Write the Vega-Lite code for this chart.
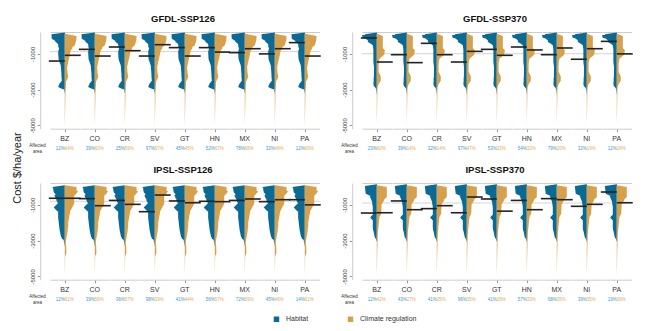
{
"$schema": "https://vega.github.io/schema/vega-lite/v6.json",
"padding": {"left": 12, "top": 13, "right": 5, "bottom": 5},
"title": {"text": "Cost $/ha/year", "orient": "left", "anchor": "middle", "fontSize": 11, "fontWeight": "normal", "color": "#222222", "offset": 6},
"config": {"font": "Liberation Sans", "view": {"stroke": null}, "axis": {"grid": false}},
"data": {"values": [
{"p":"G126","c":"BZ","s":"Habitat","m":-1400,"pct":"12%","v":[120,0,-200,-400,-1000,-2000,-2450,-2650,-2850,-2950,-3000],"w":[0,0.3,0.25,0.12,0.1,0.1,0.14,0.35,0.45,0.2,0]},
{"p":"G126","c":"BZ","s":"Climate regulation","m":-1080,"pct":"64%","v":[100,0,-300,-700,-1080,-1500,-1830,-2100,-2300,-2450,-2600,-3500,-5100],"w":[0,0.3,0.36,0.3,0.23,0.16,0.13,0.2,0.24,0.15,0.06,0.04,0]},
{"p":"G126","c":"CO","s":"Habitat","m":-746,"pct":"39%","v":[130,0,-350,-700,-1100,-1500,-2000,-2400,-2800,-2900],"w":[0,0.45,0.42,0.27,0.2,0.17,0.14,0.14,0.08,0]},
{"p":"G126","c":"CO","s":"Climate regulation","m":-1120,"pct":"60%","v":[100,0,-500,-900,-1450,-1900,-2400,-3000,-4160],"w":[0,0.32,0.32,0.25,0.18,0.1,0.07,0.04,0]},
{"p":"G126","c":"CR","s":"Habitat","m":-615,"pct":"25%","v":[150,30,-150,-350,-450,-700,-1000,-1500,-2200,-2800,-3230],"w":[0,0.8,0.78,0.6,0.45,0.27,0.2,0.18,0.15,0.1,0]},
{"p":"G126","c":"CR","s":"Climate regulation","m":-820,"pct":"59%","v":[100,0,-200,-400,-600,-900,-1450,-2400,-3000,-3800],"w":[0,0.25,0.45,0.57,0.5,0.3,0.18,0.1,0.06,0]},
{"p":"G126","c":"SV","s":"Habitat","m":-1120,"pct":"97%","v":[100,0,-520,-900,-1300,-1650,-2400,-2800,-2950],"w":[0,0.23,0.34,0.45,0.42,0.27,0.2,0.14,0]},
{"p":"G126","c":"SV","s":"Climate regulation","m":-485,"pct":"57%","v":[130,0,-240,-520,-700,-900,-1100,-1300],"w":[0,0.8,0.78,0.68,0.4,0.2,0.08,0]},
{"p":"G126","c":"GT","s":"Habitat","m":-650,"pct":"45%","v":[130,0,-150,-340,-500,-620,-800,-1100,-1800,-2000,-2200,-2500,-2760],"w":[0,0.4,0.4,0.18,0.42,0.45,0.22,0.18,0.2,0.23,0.14,0.1,0]},
{"p":"G126","c":"GT","s":"Climate regulation","m":-1120,"pct":"45%","v":[100,0,-500,-900,-1100,-1450,-2000,-3000,-3920],"w":[0,0.34,0.34,0.3,0.23,0.14,0.09,0.05,0]},
{"p":"G126","c":"HN","s":"Habitat","m":-650,"pct":"52%","v":[130,0,-350,-520,-900,-1450,-2400,-2900,-3040],"w":[0,0.57,0.55,0.34,0.23,0.16,0.16,0.1,0]},
{"p":"G126","c":"HN","s":"Climate regulation","m":-900,"pct":"67%","v":[100,0,-400,-700,-900,-1450,-2000,-2800,-3500],"w":[0,0.45,0.45,0.4,0.34,0.18,0.09,0.05,0]},
{"p":"G126","c":"MX","s":"Habitat","m":-930,"pct":"78%","v":[130,0,-500,-700,-1250,-2400,-2950],"w":[0,0.45,0.45,0.27,0.18,0.12,0]},
{"p":"G126","c":"MX","s":"Climate regulation","m":-710,"pct":"68%","v":[100,0,-400,-700,-900,-1450,-2000,-2950],"w":[0,0.45,0.57,0.5,0.34,0.14,0.06,0]},
{"p":"G126","c":"NI","s":"Habitat","m":-1000,"pct":"32%","v":[130,0,-340,-520,-900,-1450,-2000,-2200,-2700,-2850],"w":[0,0.41,0.4,0.27,0.27,0.23,0.2,0.23,0.18,0]},
{"p":"G126","c":"NI","s":"Climate regulation","m":-710,"pct":"48%","v":[100,0,-400,-700,-900,-1450,-2000,-2200,-2500,-3920],"w":[0,0.4,0.45,0.42,0.27,0.14,0.18,0.18,0.06,0]},
{"p":"G126","c":"PA","s":"Habitat","m":-370,"pct":"12%","v":[190,100,-150,-300,-430,-700,-1250,-1800],"w":[0,0.9,0.88,0.6,0.34,0.18,0.11,0]},
{"p":"G126","c":"PA","s":"Climate regulation","m":-1120,"pct":"69%","v":[100,0,-500,-1080,-1450,-1830,-2400,-3000,-4500],"w":[0,0.3,0.45,0.34,0.23,0.14,0.09,0.05,0]},
{"p":"G370","c":"BZ","s":"Habitat","m":-110,"pct":"23%","v":[150,50,-100,-250,-500,-1100,-1250,-1400,-1650,-1750],"w":[0,1.0,0.95,0.25,0.11,0.11,0.23,0.2,0.08,0]},
{"p":"G370","c":"BZ","s":"Climate regulation","m":-1455,"pct":"60%","v":[80,0,-700,-1450,-2000,-2250,-2500,-2700,-2900,-4720],"w":[0,0.16,0.16,0.13,0.12,0.27,0.27,0.12,0.05,0]},
{"p":"G370","c":"CO","s":"Habitat","m":-1045,"pct":"39%","v":[130,0,-340,-520,-1100,-2200,-2500,-2800,-3040],"w":[0,0.27,0.25,0.18,0.14,0.14,0.18,0.16,0]},
{"p":"G370","c":"CO","s":"Climate regulation","m":-1490,"pct":"14%","v":[100,0,-1270,-1450,-2000,-5000],"w":[0,0.18,0.16,0.11,0.05,0]},
{"p":"G370","c":"CR","s":"Habitat","m":-410,"pct":"32%","v":[130,0,-340,-520,-1100,-2200,-2650,-2800,-2950],"w":[0,0.45,0.42,0.23,0.16,0.16,0.23,0.2,0]},
{"p":"G370","c":"CR","s":"Climate regulation","m":-1045,"pct":"14%","v":[100,0,-700,-1080,-1450,-2000,-4530],"w":[0,0.27,0.27,0.18,0.11,0.05,0]},
{"p":"G370","c":"SV","s":"Habitat","m":-1455,"pct":"97%","v":[130,0,-340,-700,-1450,-1800,-2700,-2910],"w":[0,0.23,0.2,0.23,0.23,0.18,0.18,0]},
{"p":"G370","c":"SV","s":"Climate regulation","m":-860,"pct":"47%","v":[130,0,-340,-520,-800,-1050,-1270,-1455,-1550],"w":[0,0.41,0.38,0.23,0.55,0.5,0.18,0.05,0]},
{"p":"G370","c":"GT","s":"Habitat","m":-746,"pct":"53%","v":[130,0,-340,-520,-1100,-2200,-2400,-2600,-3300],"w":[0,0.64,0.6,0.23,0.14,0.14,0.23,0.1,0]},
{"p":"G370","c":"GT","s":"Climate regulation","m":-1080,"pct":"33%","v":[100,0,-900,-1080,-1450,-2000,-5000],"w":[0,0.27,0.27,0.23,0.14,0.06,0]},
{"p":"G370","c":"HN","s":"Habitat","m":-615,"pct":"54%","v":[130,0,-340,-520,-1080,-2000,-2900],"w":[0,0.57,0.55,0.27,0.18,0.11,0]},
{"p":"G370","c":"HN","s":"Climate regulation","m":-780,"pct":"32%","v":[100,0,-700,-1080,-1450,-2000,-5000],"w":[0,0.34,0.34,0.23,0.11,0.05,0]},
{"p":"G370","c":"MX","s":"Habitat","m":-1045,"pct":"79%","v":[130,0,-340,-700,-1450,-2950],"w":[0,0.34,0.32,0.23,0.14,0]},
{"p":"G370","c":"MX","s":"Climate regulation","m":-670,"pct":"20%","v":[100,0,-700,-1080,-1500,-5000],"w":[0,0.34,0.34,0.18,0.08,0]},
{"p":"G370","c":"NI","s":"Habitat","m":-1300,"pct":"32%","v":[130,0,-340,-700,-1450,-2400,-2700,-2900],"w":[0,0.27,0.25,0.18,0.18,0.2,0.23,0]},
{"p":"G370","c":"NI","s":"Climate regulation","m":-710,"pct":"19%","v":[100,0,-700,-1080,-1450,-2000,-4600],"w":[0,0.41,0.41,0.23,0.14,0.06,0]},
{"p":"G370","c":"PA","s":"Habitat","m":-300,"pct":"12%","v":[190,100,-150,-430,-900,-1450,-2200,-2400],"w":[0,0.8,0.75,0.27,0.18,0.11,0.07,0]},
{"p":"G370","c":"PA","s":"Climate regulation","m":-1000,"pct":"18%","v":[100,0,-700,-1080,-1500,-3600],"w":[0,0.23,0.23,0.14,0.06,0]},
{"p":"I126","c":"BZ","s":"Habitat","m":-630,"pct":"12%","v":[93,0,-150,-370,-650,-900,-1150,-1350,-1450],"w":[0,0.84,0.7,0.3,0.25,0.45,0.75,0.5,0]},
{"p":"I126","c":"BZ","s":"Climate regulation","m":-630,"pct":"61%","v":[80,0,-250,-450,-750,-1120,-1500,-2500,-5040],"w":[0,0.4,0.9,0.7,0.25,0.12,0.08,0.05,0]},
{"p":"I126","c":"CO","s":"Habitat","m":-650,"pct":"39%","v":[93,0,-300,-560,-933,-1680,-2240,-2800,-2900],"w":[0,0.8,0.75,0.45,0.27,0.25,0.18,0.14,0]},
{"p":"I126","c":"CO","s":"Climate regulation","m":-1045,"pct":"56%","v":[80,0,-746,-1500,-2426,-3000,-4385],"w":[0,0.34,0.34,0.27,0.2,0.08,0]},
{"p":"I126","c":"CR","s":"Habitat","m":-750,"pct":"36%","v":[93,0,-190,-280,-400,-560,-653,-933,-2053,-2426,-2800,-2986],"w":[0,0.57,0.5,0.27,0.35,0.27,0.34,0.27,0.27,0.2,0.14,0]},
{"p":"I126","c":"CR","s":"Climate regulation","m":-970,"pct":"57%","v":[80,0,-560,-933,-1493,-2053,-3000,-4105],"w":[0,0.4,0.45,0.34,0.23,0.14,0.06,0]},
{"p":"I126","c":"SV","s":"Habitat","m":-1380,"pct":"98%","v":[80,0,-373,-1000,-1700,-2400,-2800,-2950],"w":[0,0.11,0.34,0.45,0.45,0.35,0.25,0]},
{"p":"I126","c":"SV","s":"Climate regulation","m":-450,"pct":"39%","v":[100,0,-373,-467,-746,-930],"w":[0,0.8,0.8,0.45,0.18,0]},
{"p":"I126","c":"GT","s":"Habitat","m":-780,"pct":"41%","v":[93,0,-746,-1200,-1680,-2240,-2612,-3360],"w":[0,0.57,0.55,0.34,0.34,0.23,0.14,0]},
{"p":"I126","c":"GT","s":"Climate regulation","m":-880,"pct":"44%","v":[80,0,-746,-1120,-1493,-1680,-2053,-2800,-3200],"w":[0,0.45,0.45,0.27,0.27,0.18,0.14,0.05,0]},
{"p":"I126","c":"HN","s":"Habitat","m":-800,"pct":"56%","v":[93,0,-560,-933,-1493,-2426,-3172],"w":[0,0.57,0.57,0.41,0.27,0.14,0]},
{"p":"I126","c":"HN","s":"Climate regulation","m":-820,"pct":"57%","v":[80,0,-933,-1493,-2240,-3000,-3360,-3700,-3920],"w":[0,0.64,0.64,0.27,0.14,0.05,0.1,0.11,0]},
{"p":"I126","c":"MX","s":"Habitat","m":-750,"pct":"72%","v":[93,0,-746,-1120,-1870,-2426,-3080],"w":[0,0.57,0.57,0.34,0.18,0.11,0]},
{"p":"I126","c":"MX","s":"Climate regulation","m":-670,"pct":"59%","v":[80,0,-933,-1306,-1870,-3080],"w":[0,0.64,0.64,0.34,0.11,0]},
{"p":"I126","c":"NI","s":"Habitat","m":-820,"pct":"45%","v":[93,0,-187,-373,-560,-746,-2053,-2426,-2900,-2986],"w":[0,0.57,0.5,0.34,0.34,0.34,0.34,0.23,0.2,0]},
{"p":"I126","c":"NI","s":"Climate regulation","m":-710,"pct":"46%","v":[80,0,-560,-746,-1493,-2240,-2612,-3640],"w":[0,0.45,0.45,0.27,0.23,0.23,0.11,0]},
{"p":"I126","c":"PA","s":"Habitat","m":-710,"pct":"14%","v":[93,0,-280,-470,-653,-746,-1120,-1493],"w":[0,0.45,0.45,0.7,0.6,0.27,0.11,0]},
{"p":"I126","c":"PA","s":"Climate regulation","m":-1000,"pct":"61%","v":[80,0,-1120,-1493,-2240,-2800,-4478],"w":[0,0.41,0.41,0.34,0.18,0.08,0]},
{"p":"I370","c":"BZ","s":"Habitat","m":-1455,"pct":"12%","v":[93,0,-746,-1120,-2000,-2240,-2426,-2520],"w":[0,0.18,0.18,0.14,0.14,0.27,0.25,0]},
{"p":"I370","c":"BZ","s":"Climate regulation","m":-1440,"pct":"42%","v":[80,0,-560,-746,-1493,-1680,-2500,-4105],"w":[0,0.18,0.18,0.34,0.3,0.18,0.08,0]},
{"p":"I370","c":"CO","s":"Habitat","m":-780,"pct":"43%","v":[93,0,-373,-560,-1120,-2612,-2950],"w":[0,0.45,0.42,0.27,0.18,0.18,0]},
{"p":"I370","c":"CO","s":"Climate regulation","m":-1270,"pct":"27%","v":[80,0,-933,-1306,-2000,-5040],"w":[0,0.27,0.27,0.18,0.06,0]},
{"p":"I370","c":"CR","s":"Habitat","m":-1210,"pct":"41%","v":[93,0,-280,-560,-1120,-1680,-2426,-2800,-2986],"w":[0,0.45,0.42,0.23,0.27,0.23,0.23,0.14,0]},
{"p":"I370","c":"CR","s":"Climate regulation","m":-1045,"pct":"35%","v":[80,0,-933,-1493,-2000,-5040],"w":[0,0.34,0.34,0.18,0.06,0]},
{"p":"I370","c":"SV","s":"Habitat","m":-1440,"pct":"96%","v":[93,0,-746,-1120,-2240,-2612,-2892],"w":[0,0.34,0.34,0.27,0.27,0.18,0]},
{"p":"I370","c":"SV","s":"Climate regulation","m":-560,"pct":"35%","v":[100,0,-560,-746,-1120,-1400,-1500],"w":[0,0.68,0.68,0.45,0.18,0.05,0]},
{"p":"I370","c":"GT","s":"Habitat","m":-670,"pct":"41%","v":[120,0,-373,-560,-933,-2426,-2612,-2700],"w":[0,0.8,0.75,0.27,0.18,0.18,0.1,0]},
{"p":"I370","c":"GT","s":"Climate regulation","m":-1350,"pct":"26%","v":[80,0,-746,-1120,-1700,-5040],"w":[0,0.27,0.27,0.18,0.08,0]},
{"p":"I370","c":"HN","s":"Habitat","m":-750,"pct":"57%","v":[93,0,-373,-746,-1493,-2426,-2892],"w":[0,0.64,0.6,0.27,0.18,0.18,0]},
{"p":"I370","c":"HN","s":"Climate regulation","m":-1270,"pct":"33%","v":[80,0,-933,-1306,-2000,-5040],"w":[0,0.27,0.27,0.18,0.06,0]},
{"p":"I370","c":"MX","s":"Habitat","m":-650,"pct":"68%","v":[93,0,-560,-933,-1493,-2612,-3080],"w":[0,0.45,0.45,0.27,0.18,0.18,0]},
{"p":"I370","c":"MX","s":"Climate regulation","m":-710,"pct":"35%","v":[80,0,-746,-1120,-1700,-5040],"w":[0,0.5,0.5,0.23,0.08,0]},
{"p":"I370","c":"NI","s":"Habitat","m":-1080,"pct":"39%","v":[93,0,-560,-933,-1493,-2612,-2986],"w":[0,0.34,0.34,0.23,0.18,0.18,0]},
{"p":"I370","c":"NI","s":"Climate regulation","m":-970,"pct":"35%","v":[80,0,-746,-1120,-1700,-5040],"w":[0,0.41,0.41,0.23,0.08,0]},
{"p":"I370","c":"PA","s":"Habitat","m":-280,"pct":"19%","v":[150,50,-187,-373,-746,-1400,-1700,-1850,-1950,-2900,-3000],"w":[0,0.8,0.75,0.23,0.11,0.11,0.45,0.3,0.05,0.03,0]},
{"p":"I370","c":"PA","s":"Climate regulation","m":-880,"pct":"39%","v":[80,0,-373,-746,-1120,-1870,-4700],"w":[0,0.34,0.34,0.27,0.18,0.09,0]}
]},
"resolve": {"scale": {"color": "shared"}, "legend": {"color": "shared"}},
"spacing": 10,
"vconcat": [
{"hconcat": [
{
"title": {"text": "GFDL-SSP126", "fontSize": 9.5, "fontWeight": "bold", "color": "#111111", "offset": 9, "frame": "group", "anchor": "middle", "orient": "top", "dx": 133},
"transform": [{"filter": "datum.p == 'G126'"}],
"bounds": "flush", "spacing": 0,
"resolve": {"scale": {"x": "independent"}},
"facet": {"column": {"field": "c", "type": "nominal", "sort": ["BZ","CO","CR","SV","GT","HN","MX","NI","PA"], "header": {"labels": false, "title": null}}},
"spec": {"width": 29.55, "height": 96.7, "resolve": {"scale": {"x": "independent"}}, "layer": [
{"transform": [{"filter": "datum.s == 'Habitat'"}], "mark": {"type": "rule", "color": "#d4d4d4", "strokeWidth": 1},
 "encoding": {"y": {"datum": -870, "type": "quantitative", "scale": {"domain": [-5185, 224], "nice": false, "zero": false},
  "axis": {"values": [0,-1000,-2000,-3000,-4000,-5000], "labelExpr": "(datum.value == -2000 || datum.value == -4000) ? '' : '' + datum.value", "labelOverlap": false, "labelFlush": false, "labelAngle": -90, "labelFontSize": 6, "labelColor": "#444444", "labelPadding": 2, "tickSize": 3, "tickColor": "#999999", "domainColor": "#cccccc", "grid": false, "offset": 9.8, "title": null}}}},
{"transform": [{"filter": "datum.s == 'Habitat'"}, {"flatten": ["v","w"]}], "mark": {"type": "area", "orient": "horizontal", "interpolate": "linear"},
 "encoding": {"y": {"field": "v", "type": "quantitative", "title": null},
  "x": {"field": "w", "type": "quantitative", "stack": null, "scale": {"domain": [-1,1], "reverse": true}, "axis": {"orient": "top", "labels": false, "ticks": false, "grid": false, "domainColor": "#cccccc", "title": null}},
  "x2": {"datum": 0},
  "order": {"value": null},
  "color": {"field": "s", "type": "nominal", "title": null, "scale": {"domain": ["Habitat","Climate regulation"], "range": ["#0b6a94","#d6a14d"]}, "legend": {"orient": "none", "legendX": 223, "legendY": 283.5, "direction": "horizontal", "symbolType": "square", "symbolSize": 30, "symbolStrokeWidth": 0, "labelFontSize": 7, "labelColor": "#333333", "columnPadding": 38, "labelOffset": 6}}}},
{"layer": [
 {"transform": [{"filter": "datum.s == 'Climate regulation'"}, {"flatten": ["v","w"]}], "mark": {"type": "area", "orient": "horizontal", "interpolate": "linear"},
  "encoding": {"y": {"field": "v", "type": "quantitative", "title": null},
   "x": {"field": "w", "type": "quantitative", "stack": null, "scale": {"domain": [-1,1]}, "axis": {"orient": "bottom", "values": [0], "labels": false, "ticks": true, "tickSize": 3, "tickColor": "#999999", "grid": false, "domainColor": "#cccccc", "title": null}},
   "x2": {"datum": 0},
   "order": {"value": null},
   "color": {"field": "s", "type": "nominal", "title": null, "scale": {"domain": ["Habitat","Climate regulation"], "range": ["#0b6a94","#d6a14d"]}, "legend": {"orient": "none", "legendX": 223, "legendY": 283.5, "direction": "horizontal", "symbolType": "square", "symbolSize": 30, "symbolStrokeWidth": 0, "labelFontSize": 7, "labelColor": "#333333", "columnPadding": 38, "labelOffset": 6}}}},
 {"transform": [{"filter": "datum.s == 'Habitat'"}], "mark": {"type": "rule", "color": "#222222", "strokeWidth": 1.6}, "encoding": {"y": {"field": "m", "type": "quantitative", "title": null}, "x": {"datum": -1.08}, "x2": {"datum": 0}}},
 {"transform": [{"filter": "datum.s == 'Climate regulation'"}], "mark": {"type": "rule", "color": "#222222", "strokeWidth": 1.6}, "encoding": {"y": {"field": "m", "type": "quantitative", "title": null}, "x": {"datum": 0}, "x2": {"datum": 1.08}}},
 {"transform": [{"filter": "datum.s == 'Habitat'"}], "mark": {"type": "text", "fontSize": 7, "color": "#333333", "baseline": "middle", "dy": 10.5}, "encoding": {"y": {"datum": -5185, "title": null}, "text": {"field": "c"}}},
 {"transform": [{"filter": "datum.s == 'Habitat'"}], "mark": {"type": "text", "fontSize": 4.5, "color": "#3b98cf", "align": "right", "baseline": "middle", "dy": 20}, "encoding": {"y": {"datum": -5185, "title": null}, "text": {"field": "pct"}}},
 {"transform": [{"filter": "datum.s == 'Climate regulation'"}], "mark": {"type": "text", "fontSize": 4.5, "color": "#dfad57", "align": "left", "baseline": "middle", "dy": 20}, "encoding": {"y": {"datum": -5185, "title": null}, "text": {"field": "pct"}}},
 {"transform": [{"filter": "datum.s == 'Habitat' && datum.c == 'BZ'"}], "mark": {"type": "text", "fontSize": 4.5, "color": "#333333", "baseline": "middle", "lineHeight": 5.5, "dy": 17.5}, "encoding": {"x": {"datum": -1.85}, "y": {"datum": -5185, "title": null}, "text": {"value": ["Affected","area"]}}}
]}
]}
},
{
"title": {"text": "GFDL-SSP370", "fontSize": 9.5, "fontWeight": "bold", "color": "#111111", "offset": 9, "frame": "group", "anchor": "middle", "orient": "top", "dx": 133},
"transform": [{"filter": "datum.p == 'G370'"}],
"bounds": "flush", "spacing": 0,
"resolve": {"scale": {"x": "independent"}},
"facet": {"column": {"field": "c", "type": "nominal", "sort": ["BZ","CO","CR","SV","GT","HN","MX","NI","PA"], "header": {"labels": false, "title": null}}},
"spec": {"width": 29.55, "height": 96.7, "resolve": {"scale": {"x": "independent"}}, "layer": [
{"transform": [{"filter": "datum.s == 'Habitat'"}], "mark": {"type": "rule", "color": "#d4d4d4", "strokeWidth": 1},
 "encoding": {"y": {"datum": -990, "type": "quantitative", "scale": {"domain": [-5185, 224], "nice": false, "zero": false},
  "axis": {"values": [0,-1000,-2000,-3000,-4000,-5000], "labelExpr": "(datum.value == -2000 || datum.value == -4000) ? '' : '' + datum.value", "labelOverlap": false, "labelFlush": false, "labelAngle": -90, "labelFontSize": 6, "labelColor": "#444444", "labelPadding": 2, "tickSize": 3, "tickColor": "#999999", "domainColor": "#cccccc", "grid": false, "offset": 9.8, "title": null}}}},
{"transform": [{"filter": "datum.s == 'Habitat'"}, {"flatten": ["v","w"]}], "mark": {"type": "area", "orient": "horizontal", "interpolate": "linear"},
 "encoding": {"y": {"field": "v", "type": "quantitative", "title": null},
  "x": {"field": "w", "type": "quantitative", "stack": null, "scale": {"domain": [-1,1], "reverse": true}, "axis": {"orient": "top", "labels": false, "ticks": false, "grid": false, "domainColor": "#cccccc", "title": null}},
  "x2": {"datum": 0},
  "order": {"value": null},
  "color": {"field": "s", "type": "nominal", "title": null, "scale": {"domain": ["Habitat","Climate regulation"], "range": ["#0b6a94","#d6a14d"]}, "legend": {"orient": "none", "legendX": 223, "legendY": 283.5, "direction": "horizontal", "symbolType": "square", "symbolSize": 30, "symbolStrokeWidth": 0, "labelFontSize": 7, "labelColor": "#333333", "columnPadding": 38, "labelOffset": 6}}}},
{"layer": [
 {"transform": [{"filter": "datum.s == 'Climate regulation'"}, {"flatten": ["v","w"]}], "mark": {"type": "area", "orient": "horizontal", "interpolate": "linear"},
  "encoding": {"y": {"field": "v", "type": "quantitative", "title": null},
   "x": {"field": "w", "type": "quantitative", "stack": null, "scale": {"domain": [-1,1]}, "axis": {"orient": "bottom", "values": [0], "labels": false, "ticks": true, "tickSize": 3, "tickColor": "#999999", "grid": false, "domainColor": "#cccccc", "title": null}},
   "x2": {"datum": 0},
   "order": {"value": null},
   "color": {"field": "s", "type": "nominal", "title": null, "scale": {"domain": ["Habitat","Climate regulation"], "range": ["#0b6a94","#d6a14d"]}, "legend": {"orient": "none", "legendX": 223, "legendY": 283.5, "direction": "horizontal", "symbolType": "square", "symbolSize": 30, "symbolStrokeWidth": 0, "labelFontSize": 7, "labelColor": "#333333", "columnPadding": 38, "labelOffset": 6}}}},
 {"transform": [{"filter": "datum.s == 'Habitat'"}], "mark": {"type": "rule", "color": "#222222", "strokeWidth": 1.6}, "encoding": {"y": {"field": "m", "type": "quantitative", "title": null}, "x": {"datum": -1.08}, "x2": {"datum": 0}}},
 {"transform": [{"filter": "datum.s == 'Climate regulation'"}], "mark": {"type": "rule", "color": "#222222", "strokeWidth": 1.6}, "encoding": {"y": {"field": "m", "type": "quantitative", "title": null}, "x": {"datum": 0}, "x2": {"datum": 1.08}}},
 {"transform": [{"filter": "datum.s == 'Habitat'"}], "mark": {"type": "text", "fontSize": 7, "color": "#333333", "baseline": "middle", "dy": 10.5}, "encoding": {"y": {"datum": -5185, "title": null}, "text": {"field": "c"}}},
 {"transform": [{"filter": "datum.s == 'Habitat'"}], "mark": {"type": "text", "fontSize": 4.5, "color": "#3b98cf", "align": "right", "baseline": "middle", "dy": 20}, "encoding": {"y": {"datum": -5185, "title": null}, "text": {"field": "pct"}}},
 {"transform": [{"filter": "datum.s == 'Climate regulation'"}], "mark": {"type": "text", "fontSize": 4.5, "color": "#dfad57", "align": "left", "baseline": "middle", "dy": 20}, "encoding": {"y": {"datum": -5185, "title": null}, "text": {"field": "pct"}}},
 {"transform": [{"filter": "datum.s == 'Habitat' && datum.c == 'BZ'"}], "mark": {"type": "text", "fontSize": 4.5, "color": "#333333", "baseline": "middle", "lineHeight": 5.5, "dy": 17.5}, "encoding": {"x": {"datum": -1.85}, "y": {"datum": -5185, "title": null}, "text": {"value": ["Affected","area"]}}}
]}
]}
}
], "spacing": 19},
{"hconcat": [
{
"title": {"text": "IPSL-SSP126", "fontSize": 9.5, "fontWeight": "bold", "color": "#111111", "offset": 9, "frame": "group", "anchor": "middle", "orient": "top", "dx": 133},
"transform": [{"filter": "datum.p == 'I126'"}],
"bounds": "flush", "spacing": 0,
"resolve": {"scale": {"x": "independent"}},
"facet": {"column": {"field": "c", "type": "nominal", "sort": ["BZ","CO","CR","SV","GT","HN","MX","NI","PA"], "header": {"labels": false, "title": null}}},
"spec": {"width": 29.55, "height": 96.7, "resolve": {"scale": {"x": "independent"}}, "layer": [
{"transform": [{"filter": "datum.s == 'Habitat'"}], "mark": {"type": "rule", "color": "#d4d4d4", "strokeWidth": 1},
 "encoding": {"y": {"datum": -800, "type": "quantitative", "scale": {"domain": [-5185, 224], "nice": false, "zero": false},
  "axis": {"values": [0,-1000,-2000,-3000,-4000,-5000], "labelExpr": "(datum.value == -2000 || datum.value == -4000) ? '' : '' + datum.value", "labelOverlap": false, "labelFlush": false, "labelAngle": -90, "labelFontSize": 6, "labelColor": "#444444", "labelPadding": 2, "tickSize": 3, "tickColor": "#999999", "domainColor": "#cccccc", "grid": false, "offset": 9.8, "title": null}}}},
{"transform": [{"filter": "datum.s == 'Habitat'"}, {"flatten": ["v","w"]}], "mark": {"type": "area", "orient": "horizontal", "interpolate": "linear"},
 "encoding": {"y": {"field": "v", "type": "quantitative", "title": null},
  "x": {"field": "w", "type": "quantitative", "stack": null, "scale": {"domain": [-1,1], "reverse": true}, "axis": {"orient": "top", "labels": false, "ticks": false, "grid": false, "domainColor": "#cccccc", "title": null}},
  "x2": {"datum": 0},
  "order": {"value": null},
  "color": {"field": "s", "type": "nominal", "title": null, "scale": {"domain": ["Habitat","Climate regulation"], "range": ["#0b6a94","#d6a14d"]}, "legend": {"orient": "none", "legendX": 223, "legendY": 283.5, "direction": "horizontal", "symbolType": "square", "symbolSize": 30, "symbolStrokeWidth": 0, "labelFontSize": 7, "labelColor": "#333333", "columnPadding": 38, "labelOffset": 6}}}},
{"layer": [
 {"transform": [{"filter": "datum.s == 'Climate regulation'"}, {"flatten": ["v","w"]}], "mark": {"type": "area", "orient": "horizontal", "interpolate": "linear"},
  "encoding": {"y": {"field": "v", "type": "quantitative", "title": null},
   "x": {"field": "w", "type": "quantitative", "stack": null, "scale": {"domain": [-1,1]}, "axis": {"orient": "bottom", "values": [0], "labels": false, "ticks": true, "tickSize": 3, "tickColor": "#999999", "grid": false, "domainColor": "#cccccc", "title": null}},
   "x2": {"datum": 0},
   "order": {"value": null},
   "color": {"field": "s", "type": "nominal", "title": null, "scale": {"domain": ["Habitat","Climate regulation"], "range": ["#0b6a94","#d6a14d"]}, "legend": {"orient": "none", "legendX": 223, "legendY": 283.5, "direction": "horizontal", "symbolType": "square", "symbolSize": 30, "symbolStrokeWidth": 0, "labelFontSize": 7, "labelColor": "#333333", "columnPadding": 38, "labelOffset": 6}}}},
 {"transform": [{"filter": "datum.s == 'Habitat'"}], "mark": {"type": "rule", "color": "#222222", "strokeWidth": 1.6}, "encoding": {"y": {"field": "m", "type": "quantitative", "title": null}, "x": {"datum": -1.08}, "x2": {"datum": 0}}},
 {"transform": [{"filter": "datum.s == 'Climate regulation'"}], "mark": {"type": "rule", "color": "#222222", "strokeWidth": 1.6}, "encoding": {"y": {"field": "m", "type": "quantitative", "title": null}, "x": {"datum": 0}, "x2": {"datum": 1.08}}},
 {"transform": [{"filter": "datum.s == 'Habitat'"}], "mark": {"type": "text", "fontSize": 7, "color": "#333333", "baseline": "middle", "dy": 10.5}, "encoding": {"y": {"datum": -5185, "title": null}, "text": {"field": "c"}}},
 {"transform": [{"filter": "datum.s == 'Habitat'"}], "mark": {"type": "text", "fontSize": 4.5, "color": "#3b98cf", "align": "right", "baseline": "middle", "dy": 20}, "encoding": {"y": {"datum": -5185, "title": null}, "text": {"field": "pct"}}},
 {"transform": [{"filter": "datum.s == 'Climate regulation'"}], "mark": {"type": "text", "fontSize": 4.5, "color": "#dfad57", "align": "left", "baseline": "middle", "dy": 20}, "encoding": {"y": {"datum": -5185, "title": null}, "text": {"field": "pct"}}},
 {"transform": [{"filter": "datum.s == 'Habitat' && datum.c == 'BZ'"}], "mark": {"type": "text", "fontSize": 4.5, "color": "#333333", "baseline": "middle", "lineHeight": 5.5, "dy": 17.5}, "encoding": {"x": {"datum": -1.85}, "y": {"datum": -5185, "title": null}, "text": {"value": ["Affected","area"]}}}
]}
]}
},
{
"title": {"text": "IPSL-SSP370", "fontSize": 9.5, "fontWeight": "bold", "color": "#111111", "offset": 9, "frame": "group", "anchor": "middle", "orient": "top", "dx": 133},
"transform": [{"filter": "datum.p == 'I370'"}],
"bounds": "flush", "spacing": 0,
"resolve": {"scale": {"x": "independent"}},
"facet": {"column": {"field": "c", "type": "nominal", "sort": ["BZ","CO","CR","SV","GT","HN","MX","NI","PA"], "header": {"labels": false, "title": null}}},
"spec": {"width": 29.55, "height": 96.7, "resolve": {"scale": {"x": "independent"}}, "layer": [
{"transform": [{"filter": "datum.s == 'Habitat'"}], "mark": {"type": "rule", "color": "#d4d4d4", "strokeWidth": 1},
 "encoding": {"y": {"datum": -895, "type": "quantitative", "scale": {"domain": [-5185, 224], "nice": false, "zero": false},
  "axis": {"values": [0,-1000,-2000,-3000,-4000,-5000], "labelExpr": "(datum.value == -2000 || datum.value == -4000) ? '' : '' + datum.value", "labelOverlap": false, "labelFlush": false, "labelAngle": -90, "labelFontSize": 6, "labelColor": "#444444", "labelPadding": 2, "tickSize": 3, "tickColor": "#999999", "domainColor": "#cccccc", "grid": false, "offset": 9.8, "title": null}}}},
{"transform": [{"filter": "datum.s == 'Habitat'"}, {"flatten": ["v","w"]}], "mark": {"type": "area", "orient": "horizontal", "interpolate": "linear"},
 "encoding": {"y": {"field": "v", "type": "quantitative", "title": null},
  "x": {"field": "w", "type": "quantitative", "stack": null, "scale": {"domain": [-1,1], "reverse": true}, "axis": {"orient": "top", "labels": false, "ticks": false, "grid": false, "domainColor": "#cccccc", "title": null}},
  "x2": {"datum": 0},
  "order": {"value": null},
  "color": {"field": "s", "type": "nominal", "title": null, "scale": {"domain": ["Habitat","Climate regulation"], "range": ["#0b6a94","#d6a14d"]}, "legend": {"orient": "none", "legendX": 223, "legendY": 283.5, "direction": "horizontal", "symbolType": "square", "symbolSize": 30, "symbolStrokeWidth": 0, "labelFontSize": 7, "labelColor": "#333333", "columnPadding": 38, "labelOffset": 6}}}},
{"layer": [
 {"transform": [{"filter": "datum.s == 'Climate regulation'"}, {"flatten": ["v","w"]}], "mark": {"type": "area", "orient": "horizontal", "interpolate": "linear"},
  "encoding": {"y": {"field": "v", "type": "quantitative", "title": null},
   "x": {"field": "w", "type": "quantitative", "stack": null, "scale": {"domain": [-1,1]}, "axis": {"orient": "bottom", "values": [0], "labels": false, "ticks": true, "tickSize": 3, "tickColor": "#999999", "grid": false, "domainColor": "#cccccc", "title": null}},
   "x2": {"datum": 0},
   "order": {"value": null},
   "color": {"field": "s", "type": "nominal", "title": null, "scale": {"domain": ["Habitat","Climate regulation"], "range": ["#0b6a94","#d6a14d"]}, "legend": {"orient": "none", "legendX": 223, "legendY": 283.5, "direction": "horizontal", "symbolType": "square", "symbolSize": 30, "symbolStrokeWidth": 0, "labelFontSize": 7, "labelColor": "#333333", "columnPadding": 38, "labelOffset": 6}}}},
 {"transform": [{"filter": "datum.s == 'Habitat'"}], "mark": {"type": "rule", "color": "#222222", "strokeWidth": 1.6}, "encoding": {"y": {"field": "m", "type": "quantitative", "title": null}, "x": {"datum": -1.08}, "x2": {"datum": 0}}},
 {"transform": [{"filter": "datum.s == 'Climate regulation'"}], "mark": {"type": "rule", "color": "#222222", "strokeWidth": 1.6}, "encoding": {"y": {"field": "m", "type": "quantitative", "title": null}, "x": {"datum": 0}, "x2": {"datum": 1.08}}},
 {"transform": [{"filter": "datum.s == 'Habitat'"}], "mark": {"type": "text", "fontSize": 7, "color": "#333333", "baseline": "middle", "dy": 10.5}, "encoding": {"y": {"datum": -5185, "title": null}, "text": {"field": "c"}}},
 {"transform": [{"filter": "datum.s == 'Habitat'"}], "mark": {"type": "text", "fontSize": 4.5, "color": "#3b98cf", "align": "right", "baseline": "middle", "dy": 20}, "encoding": {"y": {"datum": -5185, "title": null}, "text": {"field": "pct"}}},
 {"transform": [{"filter": "datum.s == 'Climate regulation'"}], "mark": {"type": "text", "fontSize": 4.5, "color": "#dfad57", "align": "left", "baseline": "middle", "dy": 20}, "encoding": {"y": {"datum": -5185, "title": null}, "text": {"field": "pct"}}},
 {"transform": [{"filter": "datum.s == 'Habitat' && datum.c == 'BZ'"}], "mark": {"type": "text", "fontSize": 4.5, "color": "#333333", "baseline": "middle", "lineHeight": 5.5, "dy": 17.5}, "encoding": {"x": {"datum": -1.85}, "y": {"datum": -5185, "title": null}, "text": {"value": ["Affected","area"]}}}
]}
]}
}
], "spacing": 19}
]
}
